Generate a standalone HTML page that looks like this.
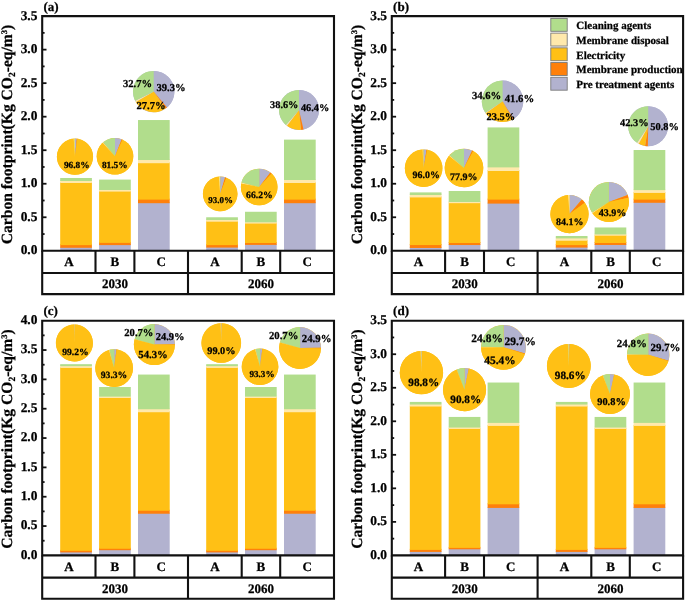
<!DOCTYPE html>
<html><head><meta charset="utf-8"><style>
html,body{margin:0;padding:0;background:#fff;width:685px;height:600px;overflow:hidden}
svg{display:block;will-change:transform;text-rendering:geometricPrecision;filter:blur(0.35px)}
text{font-family:"Liberation Serif",serif;font-weight:bold;stroke:#000;stroke-width:0.25px;paint-order:stroke}
</style></head><body>
<svg width="685" height="600" viewBox="0 0 685 600" font-family="Liberation Serif" font-weight="bold" fill="#000">
<rect width="685" height="600" fill="#fff"/>
<rect x="60.2" y="246.78" width="31.7" height="4.02" fill="#B2B2CF"/>
<rect x="60.2" y="244.1" width="31.7" height="3.68" fill="#FF800A"/>
<rect x="60.2" y="182.01" width="31.7" height="63.09" fill="#FFC015"/>
<rect x="60.2" y="179.99" width="31.7" height="3.01" fill="#FFE9AC"/>
<rect x="60.2" y="177.98" width="31.7" height="3.02" fill="#B1DD8C"/>
<rect x="99.1" y="244.1" width="31.7" height="6.7" fill="#B2B2CF"/>
<rect x="99.1" y="241.89" width="31.7" height="3.21" fill="#FF800A"/>
<rect x="99.1" y="190.59" width="31.7" height="52.3" fill="#FFC015"/>
<rect x="99.1" y="188.98" width="31.7" height="2.61" fill="#FFE9AC"/>
<rect x="99.1" y="179.59" width="31.7" height="10.39" fill="#B1DD8C"/>
<rect x="138" y="202.19" width="31.7" height="48.61" fill="#B2B2CF"/>
<rect x="138" y="198.64" width="31.7" height="4.55" fill="#FF800A"/>
<rect x="138" y="162.22" width="31.7" height="37.41" fill="#FFC015"/>
<rect x="138" y="159" width="31.7" height="4.22" fill="#FFE9AC"/>
<rect x="138" y="120.04" width="31.7" height="39.97" fill="#B1DD8C"/>
<rect x="206.2" y="246.58" width="31.7" height="4.22" fill="#B2B2CF"/>
<rect x="206.2" y="244.1" width="31.7" height="3.48" fill="#FF800A"/>
<rect x="206.2" y="220.7" width="31.7" height="24.4" fill="#FFC015"/>
<rect x="206.2" y="219.02" width="31.7" height="2.68" fill="#FFE9AC"/>
<rect x="206.2" y="217.27" width="31.7" height="2.75" fill="#B1DD8C"/>
<rect x="245" y="243.9" width="31.7" height="6.9" fill="#B2B2CF"/>
<rect x="245" y="242.02" width="31.7" height="2.88" fill="#FF800A"/>
<rect x="245" y="222.57" width="31.7" height="20.45" fill="#FFC015"/>
<rect x="245" y="221.3" width="31.7" height="2.27" fill="#FFE9AC"/>
<rect x="245" y="211.77" width="31.7" height="10.53" fill="#B1DD8C"/>
<rect x="284" y="202.19" width="31.7" height="48.61" fill="#B2B2CF"/>
<rect x="284" y="198.64" width="31.7" height="4.55" fill="#FF800A"/>
<rect x="284" y="182.01" width="31.7" height="17.63" fill="#FFC015"/>
<rect x="284" y="178.99" width="31.7" height="4.02" fill="#FFE9AC"/>
<rect x="284" y="139.62" width="31.7" height="40.37" fill="#B1DD8C"/>
<circle cx="75" cy="156.7" r="18.1" fill="#FFC015"/>
<path d="M75,156.7 L75,138.6 A18.1,18.1 0 0 1 76.82,138.69 Z" fill="#B2B2CF"/>
<path d="M75,156.7 L76.82,138.69 A18.1,18.1 0 0 1 77.38,138.76 Z" fill="#FF800A"/>
<path d="M75,156.7 L77.38,138.76 A18.1,18.1 0 1 1 73.75,138.64 Z" fill="#FFC015"/>
<path d="M75,156.7 L73.75,138.64 A18.1,18.1 0 0 1 74.55,138.61 Z" fill="#FFE9AC"/>
<path d="M75,156.7 L74.55,138.61 A18.1,18.1 0 0 1 75,138.6 Z" fill="#B1DD8C"/>
<circle cx="115" cy="156.3" r="18.3" fill="#FFC015"/>
<path d="M115,156.3 L115,138 A18.3,18.3 0 0 1 121.74,139.29 Z" fill="#B2B2CF"/>
<path d="M115,156.3 L121.74,139.29 A18.3,18.3 0 0 1 122.58,139.65 Z" fill="#FF800A"/>
<path d="M115,156.3 L122.58,139.65 A18.3,18.3 0 1 1 102.73,142.73 Z" fill="#FFC015"/>
<path d="M115,156.3 L102.73,142.73 A18.3,18.3 0 0 1 103.16,142.35 Z" fill="#FFE9AC"/>
<path d="M115,156.3 L103.16,142.35 A18.3,18.3 0 0 1 115,138 Z" fill="#B1DD8C"/>
<circle cx="153.7" cy="91.6" r="20.7" fill="#B2B2CF"/>
<path d="M153.7,91.6 L153.7,70.9 A20.7,20.7 0 0 1 166.98,107.48 Z" fill="#B2B2CF"/>
<path d="M153.7,91.6 L166.98,107.48 A20.7,20.7 0 0 1 165.55,108.57 Z" fill="#FF800A"/>
<path d="M153.7,91.6 L165.55,108.57 A20.7,20.7 0 0 1 135.79,101.99 Z" fill="#FFC015"/>
<path d="M153.7,91.6 L135.79,101.99 A20.7,20.7 0 0 1 135.18,100.85 Z" fill="#FFE9AC"/>
<path d="M153.7,91.6 L135.18,100.85 A20.7,20.7 0 0 1 153.7,70.9 Z" fill="#B1DD8C"/>
<circle cx="220.2" cy="193.9" r="17.3" fill="#FFC015"/>
<path d="M220.2,193.9 L220.2,176.6 A17.3,17.3 0 0 1 225.13,177.32 Z" fill="#B2B2CF"/>
<path d="M220.2,193.9 L225.13,177.32 A17.3,17.3 0 0 1 226.37,177.74 Z" fill="#FF800A"/>
<path d="M220.2,193.9 L226.37,177.74 A17.3,17.3 0 1 1 218.9,176.65 Z" fill="#FFC015"/>
<path d="M220.2,193.9 L218.9,176.65 A17.3,17.3 0 0 1 219.77,176.61 Z" fill="#FFE9AC"/>
<path d="M220.2,193.9 L219.77,176.61 A17.3,17.3 0 0 1 220.2,176.6 Z" fill="#B1DD8C"/>
<circle cx="259.2" cy="187" r="18.3" fill="#FFC015"/>
<path d="M259.2,187 L259.2,168.7 A18.3,18.3 0 0 1 270.42,172.54 Z" fill="#B2B2CF"/>
<path d="M259.2,187 L270.42,172.54 A18.3,18.3 0 0 1 271.64,173.58 Z" fill="#FF800A"/>
<path d="M259.2,187 L271.64,173.58 A18.3,18.3 0 1 1 241.25,183.46 Z" fill="#FFC015"/>
<path d="M259.2,187 L241.25,183.46 A18.3,18.3 0 0 1 241.45,182.56 Z" fill="#FFE9AC"/>
<path d="M259.2,187 L241.45,182.56 A18.3,18.3 0 0 1 259.2,168.7 Z" fill="#B1DD8C"/>
<circle cx="299" cy="109.9" r="20" fill="#B2B2CF"/>
<path d="M299,109.9 L299,89.9 A20,20 0 0 1 303.49,129.39 Z" fill="#B2B2CF"/>
<path d="M299,109.9 L303.49,129.39 A20,20 0 0 1 301.01,129.8 Z" fill="#FF800A"/>
<path d="M299,109.9 L301.01,129.8 A20,20 0 0 1 286.94,125.86 Z" fill="#FFC015"/>
<path d="M299,109.9 L286.94,125.86 A20,20 0 0 1 285.87,124.99 Z" fill="#FFE9AC"/>
<path d="M299,109.9 L285.87,124.99 A20,20 0 0 1 299,89.9 Z" fill="#B1DD8C"/>
<text x="76.75" y="167.66" font-size="9.36" text-anchor="middle" class="pl">96.8%</text>
<text x="114.75" y="167.66" font-size="9.36" text-anchor="middle" class="pl">81.5%</text>
<text x="137.6" y="87.09" font-size="10.61" text-anchor="middle" class="pl">32.7%</text>
<text x="171" y="90.99" font-size="10.61" text-anchor="middle" class="pl">39.3%</text>
<text x="151" y="108.89" font-size="10.61" text-anchor="middle" class="pl">27.7%</text>
<text x="220.6" y="203.32" font-size="8.94" text-anchor="middle" class="pl">93.0%</text>
<text x="259.4" y="197.67" font-size="9.67" text-anchor="middle" class="pl">66.2%</text>
<text x="284.25" y="108.48" font-size="10.3" text-anchor="middle" class="pl">38.6%</text>
<text x="315.1" y="111.08" font-size="10.3" text-anchor="middle" class="pl">46.4%</text>
<path d="M42.2,16.1 H334 V250.8 H42.2 Z" fill="none" stroke="#111" stroke-width="2.1"/>
<text x="37.4" y="254.2" font-size="13.4" text-anchor="end">0.0</text>
<line x1="42.2" y1="234.04" x2="44.6" y2="234.04" stroke="#111" stroke-width="1.8"/>
<line x1="42.2" y1="217.27" x2="46.5" y2="217.27" stroke="#111" stroke-width="1.8"/>
<text x="37.4" y="220.67" font-size="13.4" text-anchor="end">0.5</text>
<line x1="42.2" y1="200.51" x2="44.6" y2="200.51" stroke="#111" stroke-width="1.8"/>
<line x1="42.2" y1="183.74" x2="46.5" y2="183.74" stroke="#111" stroke-width="1.8"/>
<text x="37.4" y="187.14" font-size="13.4" text-anchor="end">1.0</text>
<line x1="42.2" y1="166.98" x2="44.6" y2="166.98" stroke="#111" stroke-width="1.8"/>
<line x1="42.2" y1="150.21" x2="46.5" y2="150.21" stroke="#111" stroke-width="1.8"/>
<text x="37.4" y="153.61" font-size="13.4" text-anchor="end">1.5</text>
<line x1="42.2" y1="133.45" x2="44.6" y2="133.45" stroke="#111" stroke-width="1.8"/>
<line x1="42.2" y1="116.69" x2="46.5" y2="116.69" stroke="#111" stroke-width="1.8"/>
<text x="37.4" y="120.09" font-size="13.4" text-anchor="end">2.0</text>
<line x1="42.2" y1="99.92" x2="44.6" y2="99.92" stroke="#111" stroke-width="1.8"/>
<line x1="42.2" y1="83.16" x2="46.5" y2="83.16" stroke="#111" stroke-width="1.8"/>
<text x="37.4" y="86.56" font-size="13.4" text-anchor="end">2.5</text>
<line x1="42.2" y1="66.39" x2="44.6" y2="66.39" stroke="#111" stroke-width="1.8"/>
<line x1="42.2" y1="49.63" x2="46.5" y2="49.63" stroke="#111" stroke-width="1.8"/>
<text x="37.4" y="53.03" font-size="13.4" text-anchor="end">3.0</text>
<line x1="42.2" y1="32.86" x2="44.6" y2="32.86" stroke="#111" stroke-width="1.8"/>
<text x="37.4" y="19.5" font-size="13.4" text-anchor="end">3.5</text>
<path d="M42.2,250.8 V294.1 H334 V250.8 M42.2,273 H334" fill="none" stroke="#111" stroke-width="2.1"/>
<line x1="95.5" y1="250.8" x2="95.5" y2="273" stroke="#111" stroke-width="2.1"/>
<line x1="134.4" y1="250.8" x2="134.4" y2="273" stroke="#111" stroke-width="2.1"/>
<line x1="188" y1="250.8" x2="188" y2="273" stroke="#111" stroke-width="2.1"/>
<line x1="241.7" y1="250.8" x2="241.7" y2="273" stroke="#111" stroke-width="2.1"/>
<line x1="280.2" y1="250.8" x2="280.2" y2="273" stroke="#111" stroke-width="2.1"/>
<line x1="188" y1="273" x2="188" y2="294.1" stroke="#111" stroke-width="2.1"/>
<text x="68.85" y="266.3" font-size="13" text-anchor="middle">A</text>
<text x="114.95" y="266.3" font-size="13" text-anchor="middle">B</text>
<text x="161.2" y="266.3" font-size="13" text-anchor="middle">C</text>
<text x="214.85" y="266.3" font-size="13" text-anchor="middle">A</text>
<text x="260.95" y="266.3" font-size="13" text-anchor="middle">B</text>
<text x="307.1" y="266.3" font-size="13" text-anchor="middle">C</text>
<text x="115.1" y="287.95" font-size="13" text-anchor="middle">2030</text>
<text x="261" y="287.95" font-size="13" text-anchor="middle">2060</text>
<text x="43.5" y="10.6" font-size="13">(a)</text>
<text transform="translate(12.2,244.2) rotate(-90)" font-size="15.6">Carbon footprint(Kg CO<tspan font-size="9.5" dy="3">2</tspan><tspan dy="-3">-eq/m</tspan><tspan font-size="8.5" dy="-5.2">3</tspan><tspan dy="5.2">)</tspan></text>
<rect x="409.8" y="246.98" width="31.7" height="3.82" fill="#B2B2CF"/>
<rect x="409.8" y="244.03" width="31.7" height="3.95" fill="#FF800A"/>
<rect x="409.8" y="196.42" width="31.7" height="48.61" fill="#FFC015"/>
<rect x="409.8" y="194.01" width="31.7" height="3.41" fill="#FFE9AC"/>
<rect x="409.8" y="192.39" width="31.7" height="2.62" fill="#B1DD8C"/>
<rect x="448.7" y="244.03" width="31.7" height="6.77" fill="#B2B2CF"/>
<rect x="448.7" y="242.02" width="31.7" height="3.01" fill="#FF800A"/>
<rect x="448.7" y="202.19" width="31.7" height="40.83" fill="#FFC015"/>
<rect x="448.7" y="200.98" width="31.7" height="2.21" fill="#FFE9AC"/>
<rect x="448.7" y="190.99" width="31.7" height="11" fill="#B1DD8C"/>
<rect x="487.6" y="202.59" width="31.7" height="48.21" fill="#B2B2CF"/>
<rect x="487.6" y="198.64" width="31.7" height="4.96" fill="#FF800A"/>
<rect x="487.6" y="170" width="31.7" height="29.63" fill="#FFC015"/>
<rect x="487.6" y="166.38" width="31.7" height="4.62" fill="#FFE9AC"/>
<rect x="487.6" y="127.41" width="31.7" height="39.97" fill="#B1DD8C"/>
<rect x="555.8" y="246.58" width="31.7" height="4.22" fill="#B2B2CF"/>
<rect x="555.8" y="244.1" width="31.7" height="3.48" fill="#FF800A"/>
<rect x="555.8" y="239.74" width="31.7" height="5.36" fill="#FFC015"/>
<rect x="555.8" y="237.39" width="31.7" height="3.35" fill="#FFE9AC"/>
<rect x="555.8" y="235.98" width="31.7" height="2.41" fill="#B1DD8C"/>
<rect x="594.6" y="243.97" width="31.7" height="6.83" fill="#B2B2CF"/>
<rect x="594.6" y="242.02" width="31.7" height="2.94" fill="#FF800A"/>
<rect x="594.6" y="234.71" width="31.7" height="8.31" fill="#FFC015"/>
<rect x="594.6" y="233.44" width="31.7" height="2.27" fill="#FFE9AC"/>
<rect x="594.6" y="227.46" width="31.7" height="6.97" fill="#B1DD8C"/>
<rect x="633.6" y="201.79" width="31.7" height="49.01" fill="#B2B2CF"/>
<rect x="633.6" y="198.64" width="31.7" height="4.15" fill="#FF800A"/>
<rect x="633.6" y="191.93" width="31.7" height="7.71" fill="#FFC015"/>
<rect x="633.6" y="189.11" width="31.7" height="3.82" fill="#FFE9AC"/>
<rect x="633.6" y="150.01" width="31.7" height="40.1" fill="#B1DD8C"/>
<circle cx="423.65" cy="168.2" r="18.8" fill="#FFC015"/>
<path d="M423.65,168.2 L423.65,149.4 A18.8,18.8 0 0 1 426.59,149.63 Z" fill="#B2B2CF"/>
<path d="M423.65,168.2 L426.59,149.63 A18.8,18.8 0 0 1 427.29,149.76 Z" fill="#FF800A"/>
<path d="M423.65,168.2 L427.29,149.76 A18.8,18.8 0 1 1 422.59,149.43 Z" fill="#FFC015"/>
<path d="M423.65,168.2 L422.59,149.43 A18.8,18.8 0 0 1 423.18,149.41 Z" fill="#FFE9AC"/>
<path d="M423.65,168.2 L423.18,149.41 A18.8,18.8 0 0 1 423.65,149.4 Z" fill="#B1DD8C"/>
<circle cx="464" cy="168" r="19.3" fill="#FFC015"/>
<path d="M464,168 L464,148.7 A19.3,19.3 0 0 1 472.22,150.54 Z" fill="#B2B2CF"/>
<path d="M464,168 L472.22,150.54 A19.3,19.3 0 0 1 473.3,151.09 Z" fill="#FF800A"/>
<path d="M464,168 L473.3,151.09 A19.3,19.3 0 1 1 449.05,155.79 Z" fill="#FFC015"/>
<path d="M464,168 L449.05,155.79 A19.3,19.3 0 0 1 449.6,155.15 Z" fill="#FFE9AC"/>
<path d="M464,168 L449.6,155.15 A19.3,19.3 0 0 1 464,148.7 Z" fill="#B1DD8C"/>
<circle cx="502.6" cy="101.3" r="20.7" fill="#B2B2CF"/>
<path d="M502.6,101.3 L502.6,80.6 A20.7,20.7 0 0 1 513.48,118.91 Z" fill="#B2B2CF"/>
<path d="M502.6,101.3 L513.48,118.91 A20.7,20.7 0 0 1 512.59,119.43 Z" fill="#FF800A"/>
<path d="M502.6,101.3 L512.59,119.43 A20.7,20.7 0 0 1 485.67,113.21 Z" fill="#FFC015"/>
<path d="M502.6,101.3 L485.67,113.21 A20.7,20.7 0 0 1 485.3,112.67 Z" fill="#FFE9AC"/>
<path d="M502.6,101.3 L485.3,112.67 A20.7,20.7 0 0 1 502.6,80.6 Z" fill="#B1DD8C"/>
<circle cx="569.5" cy="214.1" r="19.15" fill="#FFC015"/>
<path d="M569.5,214.1 L569.5,194.95 A19.15,19.15 0 0 1 581.89,199.5 Z" fill="#B2B2CF"/>
<path d="M569.5,214.1 L581.89,199.5 A19.15,19.15 0 0 1 584.85,202.65 Z" fill="#FF800A"/>
<path d="M569.5,214.1 L584.85,202.65 A19.15,19.15 0 1 1 568.18,195 Z" fill="#FFC015"/>
<path d="M569.5,214.1 L568.18,195 A19.15,19.15 0 0 1 569.5,194.95 Z" fill="#FFE9AC"/>
<circle cx="608.9" cy="201.9" r="20" fill="#FFC015"/>
<path d="M608.9,201.9 L608.9,181.9 A20,20 0 0 1 627.67,195.01 Z" fill="#B2B2CF"/>
<path d="M608.9,201.9 L627.67,195.01 A20,20 0 0 1 628.45,197.66 Z" fill="#FF800A"/>
<path d="M608.9,201.9 L628.45,197.66 A20,20 0 0 1 592.36,213.14 Z" fill="#FFC015"/>
<path d="M608.9,201.9 L592.36,213.14 A20,20 0 0 1 592.01,212.62 Z" fill="#FFE9AC"/>
<path d="M608.9,201.9 L592.01,212.62 A20,20 0 0 1 608.9,181.9 Z" fill="#B1DD8C"/>
<circle cx="648.2" cy="126.2" r="20" fill="#B2B2CF"/>
<path d="M648.2,126.2 L648.2,106.2 A20,20 0 1 1 647.82,146.2 Z" fill="#B2B2CF"/>
<path d="M648.2,126.2 L647.82,146.2 A20,20 0 0 1 645.07,145.95 Z" fill="#FF800A"/>
<path d="M648.2,126.2 L645.07,145.95 A20,20 0 0 1 638.68,143.79 Z" fill="#FFC015"/>
<path d="M648.2,126.2 L638.68,143.79 A20,20 0 0 1 637.06,142.81 Z" fill="#FFE9AC"/>
<path d="M648.2,126.2 L637.06,142.81 A20,20 0 0 1 648.2,106.2 Z" fill="#B1DD8C"/>
<text x="426.2" y="178.44" font-size="9.88" text-anchor="middle" class="pl">96.0%</text>
<text x="463.7" y="179.57" font-size="9.98" text-anchor="middle" class="pl">77.9%</text>
<text x="486.6" y="98.62" font-size="10.71" text-anchor="middle" class="pl">34.6%</text>
<text x="519.4" y="102.12" font-size="10.71" text-anchor="middle" class="pl">41.6%</text>
<text x="500.9" y="120.22" font-size="10.4" text-anchor="middle" class="pl">23.5%</text>
<text x="569.7" y="224.97" font-size="9.98" text-anchor="middle" class="pl">84.1%</text>
<text x="612.5" y="215.71" font-size="10.09" text-anchor="middle" class="pl">43.9%</text>
<text x="634.25" y="126.12" font-size="10.4" text-anchor="middle" class="pl">42.3%</text>
<text x="664.6" y="130.42" font-size="10.4" text-anchor="middle" class="pl">50.8%</text>
<path d="M391.8,16.1 H683.1 V250.8 H391.8 Z" fill="none" stroke="#111" stroke-width="2.1"/>
<text x="387" y="254.2" font-size="13.4" text-anchor="end">0.0</text>
<line x1="391.8" y1="234.04" x2="394.2" y2="234.04" stroke="#111" stroke-width="1.8"/>
<line x1="391.8" y1="217.27" x2="396.1" y2="217.27" stroke="#111" stroke-width="1.8"/>
<text x="387" y="220.67" font-size="13.4" text-anchor="end">0.5</text>
<line x1="391.8" y1="200.51" x2="394.2" y2="200.51" stroke="#111" stroke-width="1.8"/>
<line x1="391.8" y1="183.74" x2="396.1" y2="183.74" stroke="#111" stroke-width="1.8"/>
<text x="387" y="187.14" font-size="13.4" text-anchor="end">1.0</text>
<line x1="391.8" y1="166.98" x2="394.2" y2="166.98" stroke="#111" stroke-width="1.8"/>
<line x1="391.8" y1="150.21" x2="396.1" y2="150.21" stroke="#111" stroke-width="1.8"/>
<text x="387" y="153.61" font-size="13.4" text-anchor="end">1.5</text>
<line x1="391.8" y1="133.45" x2="394.2" y2="133.45" stroke="#111" stroke-width="1.8"/>
<line x1="391.8" y1="116.69" x2="396.1" y2="116.69" stroke="#111" stroke-width="1.8"/>
<text x="387" y="120.09" font-size="13.4" text-anchor="end">2.0</text>
<line x1="391.8" y1="99.92" x2="394.2" y2="99.92" stroke="#111" stroke-width="1.8"/>
<line x1="391.8" y1="83.16" x2="396.1" y2="83.16" stroke="#111" stroke-width="1.8"/>
<text x="387" y="86.56" font-size="13.4" text-anchor="end">2.5</text>
<line x1="391.8" y1="66.39" x2="394.2" y2="66.39" stroke="#111" stroke-width="1.8"/>
<line x1="391.8" y1="49.63" x2="396.1" y2="49.63" stroke="#111" stroke-width="1.8"/>
<text x="387" y="53.03" font-size="13.4" text-anchor="end">3.0</text>
<line x1="391.8" y1="32.86" x2="394.2" y2="32.86" stroke="#111" stroke-width="1.8"/>
<text x="387" y="19.5" font-size="13.4" text-anchor="end">3.5</text>
<path d="M391.8,250.8 V294.1 H683.1 V250.8 M391.8,273 H683.1" fill="none" stroke="#111" stroke-width="2.1"/>
<line x1="445.1" y1="250.8" x2="445.1" y2="273" stroke="#111" stroke-width="2.1"/>
<line x1="484" y1="250.8" x2="484" y2="273" stroke="#111" stroke-width="2.1"/>
<line x1="537.6" y1="250.8" x2="537.6" y2="273" stroke="#111" stroke-width="2.1"/>
<line x1="591.3" y1="250.8" x2="591.3" y2="273" stroke="#111" stroke-width="2.1"/>
<line x1="629.8" y1="250.8" x2="629.8" y2="273" stroke="#111" stroke-width="2.1"/>
<line x1="537.6" y1="273" x2="537.6" y2="294.1" stroke="#111" stroke-width="2.1"/>
<text x="418.45" y="266.3" font-size="13" text-anchor="middle">A</text>
<text x="464.55" y="266.3" font-size="13" text-anchor="middle">B</text>
<text x="510.8" y="266.3" font-size="13" text-anchor="middle">C</text>
<text x="564.45" y="266.3" font-size="13" text-anchor="middle">A</text>
<text x="610.55" y="266.3" font-size="13" text-anchor="middle">B</text>
<text x="656.7" y="266.3" font-size="13" text-anchor="middle">C</text>
<text x="464.7" y="287.95" font-size="13" text-anchor="middle">2030</text>
<text x="610.6" y="287.95" font-size="13" text-anchor="middle">2060</text>
<text x="393.1" y="10.6" font-size="13">(b)</text>
<text transform="translate(361.8,244.2) rotate(-90)" font-size="15.6">Carbon footprint(Kg CO<tspan font-size="9.5" dy="3">2</tspan><tspan dy="-3">-eq/m</tspan><tspan font-size="8.5" dy="-5.2">3</tspan><tspan dy="5.2">)</tspan></text>
<rect x="60.2" y="551.41" width="31.7" height="3.99" fill="#B2B2CF"/>
<rect x="60.2" y="549.82" width="31.7" height="2.58" fill="#FF800A"/>
<rect x="60.2" y="366.93" width="31.7" height="183.89" fill="#FFC015"/>
<rect x="60.2" y="365.17" width="31.7" height="2.76" fill="#FFE9AC"/>
<rect x="60.2" y="364.18" width="31.7" height="1.99" fill="#B1DD8C"/>
<rect x="99.1" y="549.18" width="31.7" height="6.22" fill="#B2B2CF"/>
<rect x="99.1" y="547.77" width="31.7" height="2.41" fill="#FF800A"/>
<rect x="99.1" y="396.97" width="31.7" height="151.79" fill="#FFC015"/>
<rect x="99.1" y="395.63" width="31.7" height="2.35" fill="#FFE9AC"/>
<rect x="99.1" y="387" width="31.7" height="9.62" fill="#B1DD8C"/>
<rect x="138" y="512.74" width="31.7" height="42.66" fill="#B2B2CF"/>
<rect x="138" y="509.75" width="31.7" height="3.99" fill="#FF800A"/>
<rect x="138" y="411.23" width="31.7" height="99.52" fill="#FFC015"/>
<rect x="138" y="408.24" width="31.7" height="3.99" fill="#FFE9AC"/>
<rect x="138" y="374.56" width="31.7" height="34.68" fill="#B1DD8C"/>
<rect x="206.2" y="551.41" width="31.7" height="3.99" fill="#B2B2CF"/>
<rect x="206.2" y="549.82" width="31.7" height="2.58" fill="#FF800A"/>
<rect x="206.2" y="366.93" width="31.7" height="183.89" fill="#FFC015"/>
<rect x="206.2" y="365.17" width="31.7" height="2.76" fill="#FFE9AC"/>
<rect x="206.2" y="364.18" width="31.7" height="1.99" fill="#B1DD8C"/>
<rect x="245" y="549.18" width="31.7" height="6.22" fill="#B2B2CF"/>
<rect x="245" y="547.77" width="31.7" height="2.41" fill="#FF800A"/>
<rect x="245" y="396.97" width="31.7" height="151.79" fill="#FFC015"/>
<rect x="245" y="395.63" width="31.7" height="2.35" fill="#FFE9AC"/>
<rect x="245" y="387" width="31.7" height="9.62" fill="#B1DD8C"/>
<rect x="284" y="512.74" width="31.7" height="42.66" fill="#B2B2CF"/>
<rect x="284" y="509.75" width="31.7" height="3.99" fill="#FF800A"/>
<rect x="284" y="411.23" width="31.7" height="99.52" fill="#FFC015"/>
<rect x="284" y="408.24" width="31.7" height="3.99" fill="#FFE9AC"/>
<rect x="284" y="374.56" width="31.7" height="34.68" fill="#B1DD8C"/>
<circle cx="74.45" cy="343" r="18.5" fill="#FFC015"/>
<path d="M74.45,343 L74.45,324.5 A18.5,18.5 0 0 1 74.91,324.51 Z" fill="#B2B2CF"/>
<path d="M74.45,343 L74.91,324.51 A18.5,18.5 0 0 1 75.03,324.51 Z" fill="#FF800A"/>
<path d="M74.45,343 L75.03,324.51 A18.5,18.5 0 1 1 74.1,324.5 Z" fill="#FFC015"/>
<path d="M74.45,343 L74.1,324.5 A18.5,18.5 0 0 1 74.33,324.5 Z" fill="#FFE9AC"/>
<path d="M74.45,343 L74.33,324.5 A18.5,18.5 0 0 1 74.45,324.5 Z" fill="#B1DD8C"/>
<circle cx="114.15" cy="368.1" r="18.9" fill="#FFC015"/>
<path d="M114.15,368.1 L114.15,349.2 A18.9,18.9 0 0 1 116.52,349.35 Z" fill="#B2B2CF"/>
<path d="M114.15,368.1 L116.52,349.35 A18.9,18.9 0 0 1 116.87,349.4 Z" fill="#FF800A"/>
<path d="M114.15,368.1 L116.87,349.4 A18.9,18.9 0 1 1 108.99,349.92 Z" fill="#FFC015"/>
<path d="M114.15,368.1 L108.99,349.92 A18.9,18.9 0 0 1 109.45,349.79 Z" fill="#FFE9AC"/>
<path d="M114.15,368.1 L109.45,349.79 A18.9,18.9 0 0 1 114.15,349.2 Z" fill="#B1DD8C"/>
<circle cx="154.4" cy="344.6" r="20.5" fill="#FFC015"/>
<path d="M154.4,344.6 L154.4,324.1 A20.5,20.5 0 0 1 174.9,344.34 Z" fill="#B2B2CF"/>
<path d="M154.4,344.6 L174.9,344.34 A20.5,20.5 0 0 1 174.9,344.73 Z" fill="#FF800A"/>
<path d="M154.4,344.6 L174.9,344.73 A20.5,20.5 0 1 1 134.6,339.27 Z" fill="#FFC015"/>
<path d="M154.4,344.6 L134.6,339.27 A20.5,20.5 0 0 1 134.67,339.03 Z" fill="#FFE9AC"/>
<path d="M154.4,344.6 L134.67,339.03 A20.5,20.5 0 0 1 154.4,324.1 Z" fill="#B1DD8C"/>
<circle cx="221.2" cy="343" r="19.8" fill="#FFC015"/>
<path d="M221.2,343 L221.2,323.2 A19.8,19.8 0 0 1 221.82,323.21 Z" fill="#B2B2CF"/>
<path d="M221.2,343 L221.82,323.21 A19.8,19.8 0 0 1 221.95,323.21 Z" fill="#FF800A"/>
<path d="M221.2,343 L221.95,323.21 A19.8,19.8 0 1 1 220.7,323.21 Z" fill="#FFC015"/>
<path d="M221.2,343 L220.7,323.21 A19.8,19.8 0 0 1 221.08,323.2 Z" fill="#FFE9AC"/>
<path d="M221.2,343 L221.08,323.2 A19.8,19.8 0 0 1 221.2,323.2 Z" fill="#B1DD8C"/>
<circle cx="260.05" cy="366.8" r="18.3" fill="#FFC015"/>
<path d="M260.05,366.8 L260.05,348.5 A18.3,18.3 0 0 1 262.34,348.64 Z" fill="#B2B2CF"/>
<path d="M260.05,366.8 L262.34,348.64 A18.3,18.3 0 0 1 262.69,348.69 Z" fill="#FF800A"/>
<path d="M260.05,366.8 L262.69,348.69 A18.3,18.3 0 1 1 255.05,349.19 Z" fill="#FFC015"/>
<path d="M260.05,366.8 L255.05,349.19 A18.3,18.3 0 0 1 255.5,349.07 Z" fill="#FFE9AC"/>
<path d="M260.05,366.8 L255.5,349.07 A18.3,18.3 0 0 1 260.05,348.5 Z" fill="#B1DD8C"/>
<circle cx="300.05" cy="348" r="20.9" fill="#FFC015"/>
<path d="M300.05,348 L300.05,327.1 A20.9,20.9 0 0 1 320.95,347.8 Z" fill="#B2B2CF"/>
<path d="M300.05,348 L320.95,347.8 A20.9,20.9 0 0 1 320.94,348.59 Z" fill="#FF800A"/>
<path d="M300.05,348 L320.94,348.59 A20.9,20.9 0 1 1 279.85,342.62 Z" fill="#FFC015"/>
<path d="M300.05,348 L279.85,342.62 A20.9,20.9 0 0 1 279.92,342.37 Z" fill="#FFE9AC"/>
<path d="M300.05,348 L279.92,342.37 A20.9,20.9 0 0 1 300.05,327.1 Z" fill="#B1DD8C"/>
<text x="75.4" y="354.63" font-size="9.57" text-anchor="middle" class="pl">99.2%</text>
<text x="114" y="378.27" font-size="9.67" text-anchor="middle" class="pl">93.3%</text>
<text x="138.9" y="335.84" font-size="10.61" text-anchor="middle" class="pl">20.7%</text>
<text x="170.1" y="340.2" font-size="10.5" text-anchor="middle" class="pl">24.9%</text>
<text x="153" y="358.37" font-size="10.71" text-anchor="middle" class="pl">54.3%</text>
<text x="221.4" y="354.13" font-size="10.3" text-anchor="middle" class="pl">99.0%</text>
<text x="262" y="377.09" font-size="9.15" text-anchor="middle" class="pl">93.3%</text>
<text x="283.65" y="338.87" font-size="10.71" text-anchor="middle" class="pl">20.7%</text>
<text x="316.6" y="342.26" font-size="10.82" text-anchor="middle" class="pl">24.9%</text>
<path d="M42.2,320.7 H334 V555.4 H42.2 Z" fill="none" stroke="#111" stroke-width="2.1"/>
<text x="37.4" y="558.8" font-size="13.4" text-anchor="end">0.0</text>
<line x1="42.2" y1="540.73" x2="44.6" y2="540.73" stroke="#111" stroke-width="1.8"/>
<line x1="42.2" y1="526.06" x2="46.5" y2="526.06" stroke="#111" stroke-width="1.8"/>
<text x="37.4" y="529.46" font-size="13.4" text-anchor="end">0.5</text>
<line x1="42.2" y1="511.39" x2="44.6" y2="511.39" stroke="#111" stroke-width="1.8"/>
<line x1="42.2" y1="496.73" x2="46.5" y2="496.73" stroke="#111" stroke-width="1.8"/>
<text x="37.4" y="500.13" font-size="13.4" text-anchor="end">1.0</text>
<line x1="42.2" y1="482.06" x2="44.6" y2="482.06" stroke="#111" stroke-width="1.8"/>
<line x1="42.2" y1="467.39" x2="46.5" y2="467.39" stroke="#111" stroke-width="1.8"/>
<text x="37.4" y="470.79" font-size="13.4" text-anchor="end">1.5</text>
<line x1="42.2" y1="452.72" x2="44.6" y2="452.72" stroke="#111" stroke-width="1.8"/>
<line x1="42.2" y1="438.05" x2="46.5" y2="438.05" stroke="#111" stroke-width="1.8"/>
<text x="37.4" y="441.45" font-size="13.4" text-anchor="end">2.0</text>
<line x1="42.2" y1="423.38" x2="44.6" y2="423.38" stroke="#111" stroke-width="1.8"/>
<line x1="42.2" y1="408.71" x2="46.5" y2="408.71" stroke="#111" stroke-width="1.8"/>
<text x="37.4" y="412.11" font-size="13.4" text-anchor="end">2.5</text>
<line x1="42.2" y1="394.04" x2="44.6" y2="394.04" stroke="#111" stroke-width="1.8"/>
<line x1="42.2" y1="379.38" x2="46.5" y2="379.38" stroke="#111" stroke-width="1.8"/>
<text x="37.4" y="382.78" font-size="13.4" text-anchor="end">3.0</text>
<line x1="42.2" y1="364.71" x2="44.6" y2="364.71" stroke="#111" stroke-width="1.8"/>
<line x1="42.2" y1="350.04" x2="46.5" y2="350.04" stroke="#111" stroke-width="1.8"/>
<text x="37.4" y="353.44" font-size="13.4" text-anchor="end">3.5</text>
<line x1="42.2" y1="335.37" x2="44.6" y2="335.37" stroke="#111" stroke-width="1.8"/>
<text x="37.4" y="324.1" font-size="13.4" text-anchor="end">4.0</text>
<path d="M42.2,555.4 V598.7 H334 V555.4 M42.2,577.6 H334" fill="none" stroke="#111" stroke-width="2.1"/>
<line x1="95.5" y1="555.4" x2="95.5" y2="577.6" stroke="#111" stroke-width="2.1"/>
<line x1="134.4" y1="555.4" x2="134.4" y2="577.6" stroke="#111" stroke-width="2.1"/>
<line x1="188" y1="555.4" x2="188" y2="577.6" stroke="#111" stroke-width="2.1"/>
<line x1="241.7" y1="555.4" x2="241.7" y2="577.6" stroke="#111" stroke-width="2.1"/>
<line x1="280.2" y1="555.4" x2="280.2" y2="577.6" stroke="#111" stroke-width="2.1"/>
<line x1="188" y1="577.6" x2="188" y2="598.7" stroke="#111" stroke-width="2.1"/>
<text x="68.85" y="570.9" font-size="13" text-anchor="middle">A</text>
<text x="114.95" y="570.9" font-size="13" text-anchor="middle">B</text>
<text x="161.2" y="570.9" font-size="13" text-anchor="middle">C</text>
<text x="214.85" y="570.9" font-size="13" text-anchor="middle">A</text>
<text x="260.95" y="570.9" font-size="13" text-anchor="middle">B</text>
<text x="307.1" y="570.9" font-size="13" text-anchor="middle">C</text>
<text x="115.1" y="592.55" font-size="13" text-anchor="middle">2030</text>
<text x="261" y="592.55" font-size="13" text-anchor="middle">2060</text>
<text x="43.5" y="315.2" font-size="13">(c)</text>
<text transform="translate(12.2,548.8) rotate(-90)" font-size="15.6">Carbon footprint(Kg CO<tspan font-size="9.5" dy="3">2</tspan><tspan dy="-3">-eq/m</tspan><tspan font-size="8.5" dy="-5.2">3</tspan><tspan dy="5.2">)</tspan></text>
<rect x="409.8" y="550.91" width="31.7" height="4.49" fill="#B2B2CF"/>
<rect x="409.8" y="548.9" width="31.7" height="3.01" fill="#FF800A"/>
<rect x="409.8" y="405.53" width="31.7" height="144.37" fill="#FFC015"/>
<rect x="409.8" y="403.52" width="31.7" height="3.01" fill="#FFE9AC"/>
<rect x="409.8" y="401.91" width="31.7" height="2.62" fill="#B1DD8C"/>
<rect x="448.7" y="548.3" width="31.7" height="7.1" fill="#B2B2CF"/>
<rect x="448.7" y="546.89" width="31.7" height="2.41" fill="#FF800A"/>
<rect x="448.7" y="427.93" width="31.7" height="119.96" fill="#FFC015"/>
<rect x="448.7" y="426.52" width="31.7" height="2.41" fill="#FFE9AC"/>
<rect x="448.7" y="416.93" width="31.7" height="10.6" fill="#B1DD8C"/>
<rect x="487.6" y="506.92" width="31.7" height="48.48" fill="#B2B2CF"/>
<rect x="487.6" y="503.3" width="31.7" height="4.62" fill="#FF800A"/>
<rect x="487.6" y="424.91" width="31.7" height="79.39" fill="#FFC015"/>
<rect x="487.6" y="421.9" width="31.7" height="4.02" fill="#FFE9AC"/>
<rect x="487.6" y="382.53" width="31.7" height="40.37" fill="#B1DD8C"/>
<rect x="555.8" y="550.91" width="31.7" height="4.49" fill="#B2B2CF"/>
<rect x="555.8" y="548.9" width="31.7" height="3.01" fill="#FF800A"/>
<rect x="555.8" y="405.53" width="31.7" height="144.37" fill="#FFC015"/>
<rect x="555.8" y="403.52" width="31.7" height="3.01" fill="#FFE9AC"/>
<rect x="555.8" y="401.91" width="31.7" height="2.62" fill="#B1DD8C"/>
<rect x="594.6" y="548.3" width="31.7" height="7.1" fill="#B2B2CF"/>
<rect x="594.6" y="546.89" width="31.7" height="2.41" fill="#FF800A"/>
<rect x="594.6" y="427.93" width="31.7" height="119.96" fill="#FFC015"/>
<rect x="594.6" y="426.52" width="31.7" height="2.41" fill="#FFE9AC"/>
<rect x="594.6" y="416.93" width="31.7" height="10.6" fill="#B1DD8C"/>
<rect x="633.6" y="506.92" width="31.7" height="48.48" fill="#B2B2CF"/>
<rect x="633.6" y="503.3" width="31.7" height="4.62" fill="#FF800A"/>
<rect x="633.6" y="424.91" width="31.7" height="79.39" fill="#FFC015"/>
<rect x="633.6" y="421.9" width="31.7" height="4.02" fill="#FFE9AC"/>
<rect x="633.6" y="382.53" width="31.7" height="40.37" fill="#B1DD8C"/>
<circle cx="421.45" cy="372.65" r="21.65" fill="#FFC015"/>
<path d="M421.45,372.65 L421.45,351 A21.65,21.65 0 0 1 422.13,351.01 Z" fill="#B2B2CF"/>
<path d="M421.45,372.65 L422.13,351.01 A21.65,21.65 0 0 1 422.27,351.02 Z" fill="#FF800A"/>
<path d="M421.45,372.65 L422.27,351.02 A21.65,21.65 0 1 1 420.63,351.02 Z" fill="#FFC015"/>
<path d="M421.45,372.65 L420.63,351.02 A21.65,21.65 0 0 1 421.18,351 Z" fill="#FFE9AC"/>
<path d="M421.45,372.65 L421.18,351 A21.65,21.65 0 0 1 421.45,351 Z" fill="#B1DD8C"/>
<circle cx="464.55" cy="389.65" r="21.55" fill="#FFC015"/>
<path d="M464.55,389.65 L464.55,368.1 A21.55,21.55 0 0 1 468.85,368.53 Z" fill="#B2B2CF"/>
<path d="M464.55,389.65 L468.85,368.53 A21.55,21.55 0 0 1 469.11,368.59 Z" fill="#FF800A"/>
<path d="M464.55,389.65 L469.11,368.59 A21.55,21.55 0 1 1 456.63,369.61 Z" fill="#FFC015"/>
<path d="M464.55,389.65 L456.63,369.61 A21.55,21.55 0 0 1 456.88,369.51 Z" fill="#FFE9AC"/>
<path d="M464.55,389.65 L456.88,369.51 A21.55,21.55 0 0 1 464.55,368.1 Z" fill="#B1DD8C"/>
<circle cx="503.5" cy="347.3" r="22.4" fill="#FFC015"/>
<path d="M503.5,347.3 L503.5,324.9 A22.4,22.4 0 0 1 525.01,353.54 Z" fill="#B2B2CF"/>
<path d="M503.5,347.3 L525.01,353.54 A22.4,22.4 0 0 1 524.81,354.21 Z" fill="#FF800A"/>
<path d="M503.5,347.3 L524.81,354.21 A22.4,22.4 0 0 1 481.1,347.2 Z" fill="#FFC015"/>
<path d="M503.5,347.3 L481.1,347.2 A22.4,22.4 0 0 1 481.11,346.78 Z" fill="#FFE9AC"/>
<path d="M503.5,347.3 L481.11,346.78 A22.4,22.4 0 0 1 503.5,324.9 Z" fill="#B1DD8C"/>
<circle cx="568.85" cy="366" r="21.9" fill="#FFC015"/>
<path d="M568.85,366 L568.85,344.1 A21.9,21.9 0 0 1 569.68,344.12 Z" fill="#B2B2CF"/>
<path d="M568.85,366 L569.68,344.12 A21.9,21.9 0 0 1 569.81,344.12 Z" fill="#FF800A"/>
<path d="M568.85,366 L569.81,344.12 A21.9,21.9 0 1 1 567.89,344.12 Z" fill="#FFC015"/>
<path d="M568.85,366 L567.89,344.12 A21.9,21.9 0 0 1 568.44,344.1 Z" fill="#FFE9AC"/>
<path d="M568.85,366 L568.44,344.1 A21.9,21.9 0 0 1 568.85,344.1 Z" fill="#B1DD8C"/>
<circle cx="610" cy="394" r="19.95" fill="#FFC015"/>
<path d="M610,394 L610,374.05 A19.95,19.95 0 0 1 614.22,374.5 Z" fill="#B2B2CF"/>
<path d="M610,394 L614.22,374.5 A19.95,19.95 0 0 1 614.46,374.56 Z" fill="#FF800A"/>
<path d="M610,394 L614.46,374.56 A19.95,19.95 0 1 1 602.79,375.4 Z" fill="#FFC015"/>
<path d="M610,394 L602.79,375.4 A19.95,19.95 0 0 1 603.03,375.31 Z" fill="#FFE9AC"/>
<path d="M610,394 L603.03,375.31 A19.95,19.95 0 0 1 610,374.05 Z" fill="#B1DD8C"/>
<circle cx="648.2" cy="354.75" r="21.2" fill="#FFC015"/>
<path d="M648.2,354.75 L648.2,333.55 A21.2,21.2 0 0 1 668.56,360.66 Z" fill="#B2B2CF"/>
<path d="M648.2,354.75 L668.56,360.66 A21.2,21.2 0 0 1 668.37,361.29 Z" fill="#FF800A"/>
<path d="M648.2,354.75 L668.37,361.29 A21.2,21.2 0 0 1 627,354.65 Z" fill="#FFC015"/>
<path d="M648.2,354.75 L627,354.65 A21.2,21.2 0 0 1 627.01,354.25 Z" fill="#FFE9AC"/>
<path d="M648.2,354.75 L627.01,354.25 A21.2,21.2 0 0 1 648.2,333.55 Z" fill="#B1DD8C"/>
<text x="423.7" y="385.8" font-size="11.23" text-anchor="middle" class="pl">98.8%</text>
<text x="465.7" y="402.8" font-size="11.23" text-anchor="middle" class="pl">90.8%</text>
<text x="487.1" y="342.27" font-size="11.44" text-anchor="middle" class="pl">24.8%</text>
<text x="520.3" y="344.87" font-size="11.44" text-anchor="middle" class="pl">29.7%</text>
<text x="500" y="363.97" font-size="11.44" text-anchor="middle" class="pl">45.4%</text>
<text x="570.2" y="379" font-size="11.23" text-anchor="middle" class="pl">98.6%</text>
<text x="611.5" y="404.92" font-size="10.4" text-anchor="middle" class="pl">90.8%</text>
<text x="631.8" y="347.19" font-size="10.92" text-anchor="middle" class="pl">24.8%</text>
<text x="665.5" y="350.99" font-size="10.92" text-anchor="middle" class="pl">29.7%</text>
<path d="M391.8,320.7 H683.1 V555.4 H391.8 Z" fill="none" stroke="#111" stroke-width="2.1"/>
<text x="387" y="558.8" font-size="13.4" text-anchor="end">0.0</text>
<line x1="391.8" y1="538.64" x2="394.2" y2="538.64" stroke="#111" stroke-width="1.8"/>
<line x1="391.8" y1="521.87" x2="396.1" y2="521.87" stroke="#111" stroke-width="1.8"/>
<text x="387" y="525.27" font-size="13.4" text-anchor="end">0.5</text>
<line x1="391.8" y1="505.11" x2="394.2" y2="505.11" stroke="#111" stroke-width="1.8"/>
<line x1="391.8" y1="488.34" x2="396.1" y2="488.34" stroke="#111" stroke-width="1.8"/>
<text x="387" y="491.74" font-size="13.4" text-anchor="end">1.0</text>
<line x1="391.8" y1="471.58" x2="394.2" y2="471.58" stroke="#111" stroke-width="1.8"/>
<line x1="391.8" y1="454.81" x2="396.1" y2="454.81" stroke="#111" stroke-width="1.8"/>
<text x="387" y="458.21" font-size="13.4" text-anchor="end">1.5</text>
<line x1="391.8" y1="438.05" x2="394.2" y2="438.05" stroke="#111" stroke-width="1.8"/>
<line x1="391.8" y1="421.29" x2="396.1" y2="421.29" stroke="#111" stroke-width="1.8"/>
<text x="387" y="424.69" font-size="13.4" text-anchor="end">2.0</text>
<line x1="391.8" y1="404.52" x2="394.2" y2="404.52" stroke="#111" stroke-width="1.8"/>
<line x1="391.8" y1="387.76" x2="396.1" y2="387.76" stroke="#111" stroke-width="1.8"/>
<text x="387" y="391.16" font-size="13.4" text-anchor="end">2.5</text>
<line x1="391.8" y1="370.99" x2="394.2" y2="370.99" stroke="#111" stroke-width="1.8"/>
<line x1="391.8" y1="354.23" x2="396.1" y2="354.23" stroke="#111" stroke-width="1.8"/>
<text x="387" y="357.63" font-size="13.4" text-anchor="end">3.0</text>
<line x1="391.8" y1="337.46" x2="394.2" y2="337.46" stroke="#111" stroke-width="1.8"/>
<text x="387" y="324.1" font-size="13.4" text-anchor="end">3.5</text>
<path d="M391.8,555.4 V598.7 H683.1 V555.4 M391.8,577.6 H683.1" fill="none" stroke="#111" stroke-width="2.1"/>
<line x1="445.1" y1="555.4" x2="445.1" y2="577.6" stroke="#111" stroke-width="2.1"/>
<line x1="484" y1="555.4" x2="484" y2="577.6" stroke="#111" stroke-width="2.1"/>
<line x1="537.6" y1="555.4" x2="537.6" y2="577.6" stroke="#111" stroke-width="2.1"/>
<line x1="591.3" y1="555.4" x2="591.3" y2="577.6" stroke="#111" stroke-width="2.1"/>
<line x1="629.8" y1="555.4" x2="629.8" y2="577.6" stroke="#111" stroke-width="2.1"/>
<line x1="537.6" y1="577.6" x2="537.6" y2="598.7" stroke="#111" stroke-width="2.1"/>
<text x="418.45" y="570.9" font-size="13" text-anchor="middle">A</text>
<text x="464.55" y="570.9" font-size="13" text-anchor="middle">B</text>
<text x="510.8" y="570.9" font-size="13" text-anchor="middle">C</text>
<text x="564.45" y="570.9" font-size="13" text-anchor="middle">A</text>
<text x="610.55" y="570.9" font-size="13" text-anchor="middle">B</text>
<text x="656.7" y="570.9" font-size="13" text-anchor="middle">C</text>
<text x="464.7" y="592.55" font-size="13" text-anchor="middle">2030</text>
<text x="610.6" y="592.55" font-size="13" text-anchor="middle">2060</text>
<text x="393.1" y="315.2" font-size="13">(d)</text>
<text transform="translate(361.8,548.8) rotate(-90)" font-size="15.6">Carbon footprint(Kg CO<tspan font-size="9.5" dy="3">2</tspan><tspan dy="-3">-eq/m</tspan><tspan font-size="8.5" dy="-5.2">3</tspan><tspan dy="5.2">)</tspan></text>
<rect x="550.8" y="18.4" width="16.4" height="12.9" fill="#B1DD8C" stroke="#7a7a7a" stroke-width="0.9"/>
<text x="576.3" y="29.1" font-size="11">Cleaning agents</text>
<rect x="550.8" y="33.12" width="16.4" height="12.9" fill="#FFE9AC" stroke="#7a7a7a" stroke-width="0.9"/>
<text x="576.3" y="43.8" font-size="11">Membrane disposal</text>
<rect x="550.8" y="47.84" width="16.4" height="12.9" fill="#FFC015" stroke="#7a7a7a" stroke-width="0.9"/>
<text x="576.3" y="58.5" font-size="11">Electricity</text>
<rect x="550.8" y="62.56" width="16.4" height="12.9" fill="#FF800A" stroke="#7a7a7a" stroke-width="0.9"/>
<text x="576.3" y="73.2" font-size="11">Membrane production</text>
<rect x="550.8" y="77.28" width="16.4" height="12.9" fill="#B2B2CF" stroke="#7a7a7a" stroke-width="0.9"/>
<text x="576.3" y="87.9" font-size="11">Pre treatment agents</text>
</svg>
</body></html>
